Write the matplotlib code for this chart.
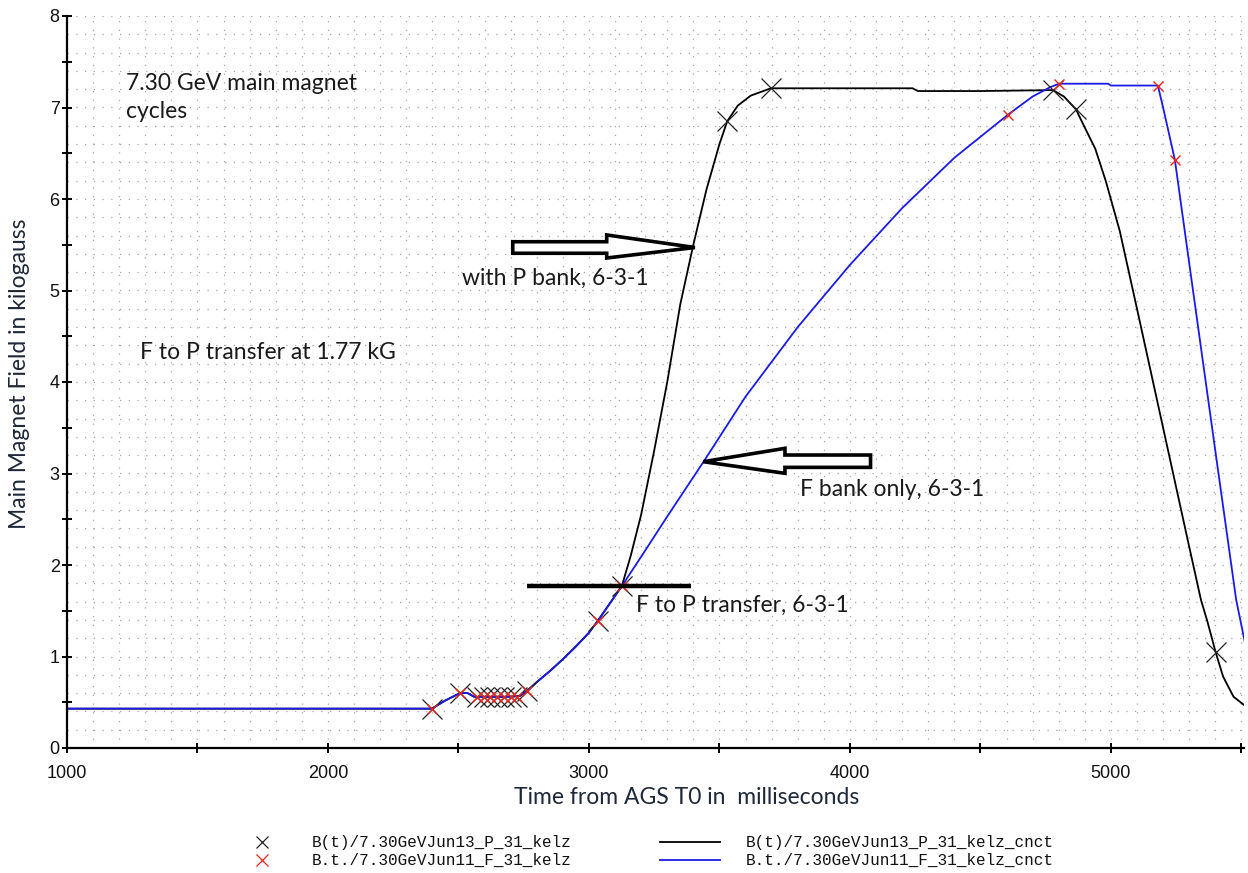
import numpy as np
import matplotlib
matplotlib.use("Agg")
import matplotlib.pyplot as plt
from matplotlib.lines import Line2D
from matplotlib.patches import Polygon
from matplotlib.ticker import MultipleLocator, FuncFormatter

# ---- data: main magnet field (kG) vs time from AGS T0 (ms) ----
# shared injection / early-acceleration porch (identical for both cycles)
porch_time = [1000, 2398, 2450, 2506, 2535, 2560, 2600, 2650, 2700, 2736, 2761,
              2800, 2850, 2900, 2950, 3000, 3034, 3080, 3126]
porch_field = [0.43, 0.43, 0.52, 0.60, 0.60, 0.56, 0.56, 0.56, 0.56, 0.57, 0.62,
               0.72, 0.84, 0.97, 1.11, 1.26, 1.39, 1.58, 1.77]

# cycle with P bank after the F->P transfer
p_time = porch_time + [3160, 3200, 3250, 3300, 3350, 3400, 3450, 3500, 3530, 3570,
                       3620, 3697, 4000, 4240, 4260, 4500, 4778, 4820, 4866, 4900,
                       4940, 4980, 5034, 5100, 5150, 5200, 5250, 5300, 5345, 5370,
                       5401, 5430, 5470, 5510]
p_field = porch_field + [2.10, 2.55, 3.25, 4.00, 4.85, 5.50, 6.10, 6.60, 6.85, 7.02,
                         7.13, 7.21, 7.21, 7.21, 7.18, 7.18, 7.19, 7.12, 6.98, 6.78,
                         6.55, 6.20, 5.65, 4.80, 4.15, 3.50, 2.85, 2.20, 1.62, 1.38,
                         1.05, 0.78, 0.56, 0.47]

# cycle with F bank only
f_time = porch_time + [3200, 3300, 3444, 3600, 3800, 4000, 4200, 4400, 4605, 4700,
                       4766, 4801, 4990, 5000, 5180, 5200, 5245, 5300, 5400, 5480, 5513]
f_field = porch_field + [2.09, 2.53, 3.15, 3.84, 4.60, 5.28, 5.90, 6.45, 6.92, 7.12,
                         7.22, 7.26, 7.26, 7.24, 7.24, 7.00, 6.43, 5.30, 3.25, 1.62, 1.16]

# sampled points (markers)
porch_mark_time = [2398, 2506, 2570, 2596, 2622, 2648, 2674, 2700, 2726, 2761, 3034, 3126]
porch_mark_field = [0.43, 0.60, 0.56, 0.56, 0.56, 0.56, 0.56, 0.56, 0.56, 0.62, 1.39, 1.77]
p_mark_time = porch_mark_time + [3529, 3697, 4778, 4866, 5401]
p_mark_field = porch_mark_field + [6.85, 7.21, 7.19, 6.98, 1.05]
f_mark_time = porch_mark_time + [4605, 4801, 5180, 5245]
f_mark_field = porch_mark_field + [6.92, 7.26, 7.24, 6.43]

transfer_field = 1.77
transfer_bar = [2764, 3390]

x_ticks_labeled = [1000, 2000, 3000, 4000, 5000]
y_ticks_labeled = [0, 1, 2, 3, 4, 5, 6, 7, 8]

legend_names = ["B(t)/7.30GeVJun13_P_31_kelz", "B.t./7.30GeVJun11_F_31_kelz",
                "B(t)/7.30GeVJun13_P_31_kelz_cnct", "B.t./7.30GeVJun11_F_31_kelz_cnct"]

# ---- figure ----
W, H = 1248, 873
fig = plt.figure(figsize=(W / 100, H / 100), dpi=100)
fig.patch.set_facecolor("white")


def fx(x):
    return x / W


def fy(y):
    return 1 - y / H


ax = fig.add_axes([fx(67), fy(748), (1244 - 67) / W, (748 - 16) / H])
ax.set_xlim(1000, 5510)
ax.set_ylim(0, 8)

# dotted background grid
dot = dict(color="#a8a8a8", lw=0.9, ls=(0, (1, 6)), zorder=0)
ax.vlines(np.arange(1100, 5510, 100), 0, 8, **dot)
ax.hlines(np.arange(0.2, 8.01, 0.2), 1000, 5510, **dot)

blue = "#1a1ae6"
red = "#e8241c"
ax.plot(p_time, p_field, color="black", lw=1.3, zorder=3)
ax.plot(f_time, f_field, color=blue, lw=1.3, zorder=4)
ax.plot(p_mark_time, p_mark_field, ls="none", marker="x", ms=14, mew=0.9,
        color="#222222", zorder=5)
ax.plot(f_mark_time, f_mark_field, ls="none", marker="x", ms=7.5, mew=1.0,
        color=red, zorder=6)

# F to P transfer level
ax.plot(transfer_bar, [transfer_field, transfer_field], color="black", lw=3.2,
        solid_capstyle="butt", zorder=7)

# hollow block arrows
arrow_style = dict(closed=True, facecolor="white", edgecolor="black", lw=2.6,
                   joinstyle="miter", zorder=8)
arrow_right = [(2708, 5.533), (3068, 5.533), (3068, 5.607), (3406, 5.47),
               (3068, 5.355), (3068, 5.407), (2708, 5.407)]
arrow_left = [(4079, 3.202), (3751, 3.202), (3751, 3.275), (3438, 3.129),
              (3751, 3.002), (3751, 3.067), (4079, 3.067)]
ax.add_patch(Polygon(arrow_right, **arrow_style))
ax.add_patch(Polygon(arrow_left, **arrow_style))

# axes styling
for s in ("top", "right"):
    ax.spines[s].set_visible(False)
for s in ("left", "bottom"):
    ax.spines[s].set_linewidth(1.6)
    ax.spines[s].set_zorder(9)

ax.xaxis.set_major_locator(MultipleLocator(500))
ax.yaxis.set_major_locator(MultipleLocator(0.5))
ax.xaxis.set_major_formatter(FuncFormatter(
    lambda v, p: f"{int(v)}" if int(round(v)) in x_ticks_labeled and abs(v - round(v)) < 1e-6 else ""))
ax.yaxis.set_major_formatter(FuncFormatter(
    lambda v, p: f"{int(v)}" if abs(v - round(v)) < 1e-6 and int(round(v)) in y_ticks_labeled else ""))
tick_font = ["Liberation Sans", "DejaVu Sans"]
ax.tick_params(axis="both", direction="inout", length=6.5, width=1.4, color="black",
               labelsize=13, labelcolor="#111111")
ax.tick_params(axis="x", pad=9)
ax.tick_params(axis="y", pad=2)
for lab in ax.get_xticklabels() + ax.get_yticklabels():
    lab.set_family(tick_font)

label_font = ["Lato", "DejaVu Sans"]
label_color = "#1e2838"
fig.text(fx(687), fy(798), "Time from AGS T0 in  milliseconds", ha="center",
         va="center", fontsize=16.5, family=label_font, color=label_color)
fig.text(fx(20), fy(374), "Main Magnet Field in kilogauss", ha="center",
         va="center", rotation=90, fontsize=16.5, family=label_font, color=label_color)

# annotations
note = dict(fontsize=16.5, family=label_font, color="#1a1a1a", va="baseline", ha="left")
fig.text(fx(126), fy(90), "7.30 GeV main magnet", **note)
fig.text(fx(126), fy(118), "cycles", **note)
fig.text(fx(140), fy(359), "F to P transfer at 1.77 kG", **note)
fig.text(fx(462), fy(285), "with P bank, 6-3-1", **note)
fig.text(fx(800), fy(496), "F bank only, 6-3-1", **note)
fig.text(fx(636), fy(612), "F to P transfer, 6-3-1", **note)

# legend below the axes
mono = ["Liberation Mono", "DejaVu Sans Mono"]
leg_text = dict(fontsize=11.5, family=mono, color="#111111", va="center", ha="left")
fig.add_artist(Line2D([fx(262)], [fy(842)], marker="x", ms=9, mew=0.9,
                      color="#222222", transform=fig.transFigure))
fig.add_artist(Line2D([fx(262)], [fy(860)], marker="x", ms=8, mew=0.9,
                      color=red, transform=fig.transFigure))
fig.add_artist(Line2D([fx(660), fx(720)], [fy(842), fy(842)], lw=1.3,
                      color="black", transform=fig.transFigure))
fig.add_artist(Line2D([fx(660), fx(720)], [fy(860), fy(860)], lw=1.3,
                      color=blue, transform=fig.transFigure))
fig.text(fx(312), fy(842), legend_names[0], **leg_text)
fig.text(fx(312), fy(860), legend_names[1], **leg_text)
fig.text(fx(746), fy(842), legend_names[2], **leg_text)
fig.text(fx(746), fy(860), legend_names[3], **leg_text)

fig.savefig("out.png", dpi=100, facecolor="white")
